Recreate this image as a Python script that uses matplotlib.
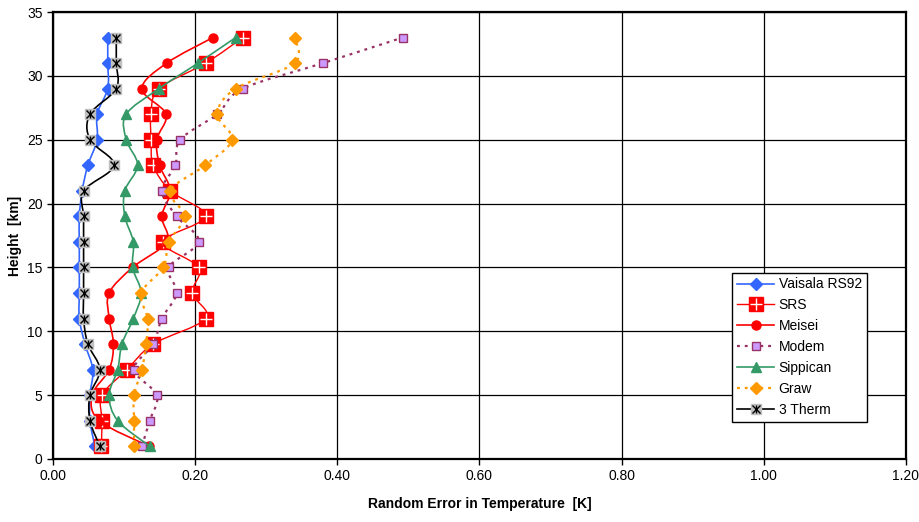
import numpy as np
import matplotlib
matplotlib.use('Agg')
import matplotlib.pyplot as plt
from matplotlib.path import Path
from matplotlib.patches import PathPatch
from matplotlib.lines import Line2D
from matplotlib.legend_handler import HandlerTuple

plt.rcParams['font.family'] = ['Liberation Sans', 'DejaVu Sans']

# heights [km]
height = [1, 3, 5, 7, 9, 11, 13, 15, 17, 19, 21, 23, 25, 27, 29, 31, 33]

# random error in temperature [K]
vaisala = [0.059, 0.052, 0.052, 0.056, 0.045, 0.037, 0.037, 0.037, 0.037, 0.037,
           0.041, 0.049, 0.062, 0.062, 0.077, 0.077, 0.077]
srs = [0.068, 0.069, 0.069, 0.104, 0.141, 0.215, 0.196, 0.205, 0.155, 0.215,
       0.165, 0.141, 0.138, 0.138, 0.149, 0.215, 0.267]
meisei = [0.135, 0.065, 0.055, 0.079, 0.085, 0.079, 0.079, 0.112, 0.160, 0.153,
          0.165, 0.150, 0.146, 0.159, 0.125, 0.160, 0.225]
modem = [0.125, 0.136, 0.146, 0.114, 0.141, 0.153, 0.174, 0.163, 0.205, 0.174,
         0.153, 0.172, 0.179, 0.231, 0.267, 0.380, 0.492]
sippican = [0.136, 0.091, 0.079, 0.091, 0.097, 0.113, 0.124, 0.112, 0.113, 0.101,
            0.101, 0.119, 0.103, 0.103, 0.149, 0.204, 0.257]
graw = [0.114, 0.114, 0.114, 0.125, 0.131, 0.133, 0.124, 0.155, 0.163, 0.185,
        0.165, 0.214, 0.252, 0.231, 0.257, 0.340, 0.340]
therm3 = [0.066, 0.052, 0.052, 0.066, 0.049, 0.043, 0.043, 0.043, 0.043, 0.043,
          0.043, 0.086, 0.052, 0.052, 0.089, 0.089, 0.089]


def smooth_path(x, y):
    # Excel-like smoothed line: Catmull-Rom segments as cubic Beziers
    p = np.column_stack([x, y])
    n = len(p)
    verts = [p[0]]
    codes = [Path.MOVETO]
    for i in range(n - 1):
        p0 = p[i - 1] if i > 0 else p[i]
        p3 = p[i + 2] if i + 2 < n else p[i + 1]
        c1 = p[i] + (p[i + 1] - p0) / 6.0
        c2 = p[i + 1] - (p3 - p[i]) / 6.0
        verts += [c1, c2, p[i + 1]]
        codes += [Path.CURVE4] * 3
    return Path(verts, codes)


fig = plt.figure(figsize=(9.19, 5.22), dpi=100)
ax = fig.add_axes([0.0577, 0.1207, 0.928, 0.8563])

series = [
    # label, values, line color, linestyle, lw, markers
    ('Vaisala RS92', vaisala, '#3366FF', '-', 1.2,
     [dict(marker='D', ms=6, mfc='#3366FF', mec='#3366FF')]),
    ('SRS', srs, '#FF0000', '-', 1.0,
     [dict(marker='s', ms=9.5, mfc='#FF0000', mec='#FF0000'),
      dict(marker='+', ms=8, mfc='white', mec='white', mew=1.0)]),
    ('Meisei', meisei, '#FF0000', '-', 1.2,
     [dict(marker='o', ms=6.5, mfc='#FF0000', mec='#FF0000')]),
    ('Modem', modem, '#993366', (0, (1.3, 2.2)), 1.6,
     [dict(marker='s', ms=6, mfc='#CC99FF', mec='#993366', mew=1.0)]),
    ('Sippican', sippican, '#339966', '-', 1.2,
     [dict(marker='^', ms=7, mfc='#339966', mec='#339966')]),
    ('Graw', graw, '#FF9900', (0, (1.3, 2.2)), 1.6,
     [dict(marker='D', ms=6, mfc='#FF9900', mec='#FF9900')]),
    ('3 Therm', therm3, 'black', '-', 1.2,
     [dict(marker='s', ms=7, mfc='#C0C0C0', mec='#C0C0C0'),
      dict(marker='x', ms=6, mfc='black', mec='black', mew=1.0),
      dict(marker='|', ms=6, mfc='black', mec='black', mew=1.0)]),
]

handles = []
labels = []
for k, (lab, vals, col, ls, lw, mks) in enumerate(series):
    z = 3 + k
    patch = PathPatch(smooth_path(vals, height), fill=False, edgecolor=col,
                      linestyle=ls, lw=lw, zorder=z, transform=ax.transData)
    ax.add_patch(patch)
    for m in mks:
        ax.plot(vals, height, linestyle='none', zorder=z, **m)
    parts = [Line2D([], [], color=col, linestyle=ls, lw=lw, **mks[0])]
    for m in mks[1:]:
        parts.append(Line2D([], [], linestyle='none', **m))
    handles.append(tuple(parts))
    labels.append(lab)

ax.set_xlim(0, 1.2)
ax.set_ylim(0, 35)
ax.set_xticks(np.arange(0, 1.21, 0.2))
ax.set_xticklabels(['%.2f' % v for v in np.arange(0, 1.21, 0.2)])
ax.set_yticks(range(0, 36, 5))
ax.grid(True, color='black', lw=0.9)
ax.set_axisbelow(True)
for s in ax.spines.values():
    s.set_linewidth(1.6)
ax.tick_params(labelsize=10, length=4, width=1)

ax.set_xlabel('Random Error in Temperature  [K]', fontsize=10, fontweight='bold', labelpad=10)
ax.set_ylabel('Height  [km]', fontsize=10, fontweight='bold')
ax.yaxis.set_label_coords(-0.036, 0.5)

leg = ax.legend(handles, labels, handler_map={tuple: HandlerTuple(ndivide=1)},
                loc='lower right', bbox_to_anchor=(0.954, 0.083), fontsize=10,
                fancybox=False, framealpha=1, edgecolor='black', numpoints=1,
                handlelength=2.7, borderpad=0.35, labelspacing=0.5,
                handletextpad=0.3, borderaxespad=0)
leg.get_frame().set_linewidth(1.0)
leg.set_zorder(20)

fig.savefig('out.png', dpi=100)
